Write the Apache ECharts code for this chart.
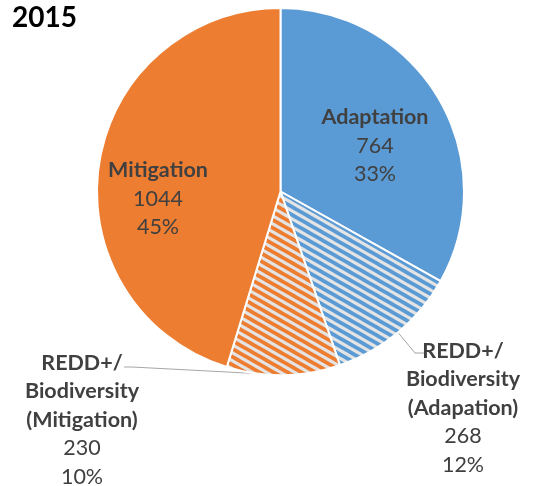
<!DOCTYPE html>
<html>
<head>
<meta charset="utf-8">
<script src="https://cdn.jsdelivr.net/npm/echarts@6/dist/echarts.min.js"></script>
<style>
  html, body { margin: 0; padding: 0; background: #fff; }
  #chart { width: 535px; height: 486px; }
</style>
</head>
<body>
<div id="chart"></div>
<script>
var chartTitle = "2015";
var categories = ["Adaptation", "REDD+/\nBiodiversity\n(Adapation)", "REDD+/\nBiodiversity\n(Mitigation)", "Mitigation"];
var values = [764, 268, 230, 1044];

var BLUE = "#5B9BD5", ORANGE = "#ED7D31";

// diagonal stripe pattern like excel's "wide downward diagonal"
function hatch(color) {
    var W = 14, H = 8;
    var c = document.createElement("canvas");
    c.width = W; c.height = H;
    var ctx = c.getContext("2d");
    ctx.fillStyle = "#e4e4e4";
    ctx.fillRect(0, 0, W, H);
    ctx.strokeStyle = color;
    ctx.lineWidth = 3.7;
    for (var k = -3; k <= 3; k++) {
        ctx.beginPath();
        ctx.moveTo(-W, -H + k * H);
        ctx.lineTo(2 * W, 2 * H + k * H);
        ctx.stroke();
    }
    return c;
}

var fills = [BLUE, {image: hatch(BLUE), repeat: "repeat"}, {image: hatch(ORANGE), repeat: "repeat"}, ORANGE];
// label block centres, same order as categories
var labelPos = [[375, 146], [463, 408], [82, 420], [158, 199]];

var chart = echarts.init(document.getElementById("chart"));
var option = {
    animation: false,
    textStyle: {fontFamily: "Lato"},
    title: {
        text: chartTitle,
        left: 7,
        top: -1,
        textStyle: {fontSize: 28, fontWeight: "bold", color: "#000", fontFamily: "Lato"}
    },
    series: [
        {
            type: "pie",
            center: [280.5, 191.5],
            radius: 183.5,
            startAngle: 90,
            avoidLabelOverlap: false,
            itemStyle: {borderColor: "#fff", borderWidth: 2},
            label: {
                color: "#404040",
                formatter: function (p) {
                    var lines = p.name.split("\n").map(function (s) { return "{b|" + s + "}"; });
                    lines.push("{v|" + p.value + "}");
                    lines.push("{v|" + Math.round(p.percent) + "%}");
                    return lines.join("\n");
                },
                rich: {
                    b: {fontSize: 21.5, fontWeight: "bold", color: "#404040", lineHeight: 28.5, fontFamily: "Lato"},
                    v: {fontSize: 21.5, color: "#404040", lineHeight: 28.5, fontFamily: "Lato"}
                }
            },
            labelLine: {lineStyle: {color: "#a6a6a6", width: 1}, length: 10, length2: 10},
            labelLayout: function (params) {
                var i = params.dataIndex;
                var res = {x: labelPos[i][0], y: labelPos[i][1], align: "center", verticalAlign: "middle"};
                if (params.labelLinePoints) {
                    var s = params.labelLinePoints[0];
                    if (i === 1) res.labelLinePoints = [s, [415, 353], [424, 353]];
                    if (i === 2) res.labelLinePoints = [s, [132, 367], [124, 367]];
                }
                return res;
            },
            data: values.map(function (v, i) {
                var outside = (i === 1 || i === 2);
                return {
                    name: categories[i],
                    value: v,
                    itemStyle: {color: fills[i]},
                    label: {position: outside ? "outside" : "inside"},
                    labelLine: {show: outside}
                };
            })
        }
    ]
};
chart.setOption(option, true);
</script>
</body>
</html>
